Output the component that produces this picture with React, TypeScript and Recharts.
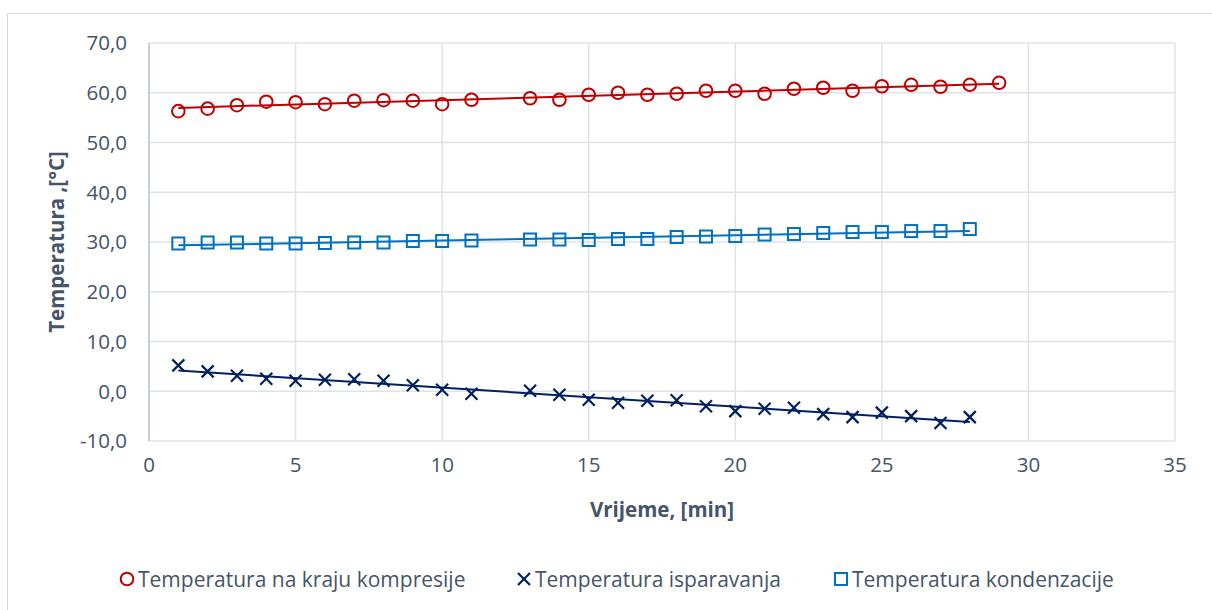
import React from 'react';
import {
  ScatterChart,
  Scatter,
  XAxis,
  YAxis,
  CartesianGrid,
  ReferenceLine,
  Label,
} from 'recharts';

// minutes for the compression series (no reading at 12 min)
const MIN_KOMPRESIJA = [1, 2, 3, 4, 5, 6, 7, 8, 9, 10, 11, 13, 14, 15, 16, 17, 18, 19, 20, 21, 22, 23, 24, 25, 26, 27, 28, 29];
const MIN_OSTALO = [1, 2, 3, 4, 5, 6, 7, 8, 9, 10, 11, 13, 14, 15, 16, 17, 18, 19, 20, 21, 22, 23, 24, 25, 26, 27, 28];

const KOMPRESIJA = [56.3, 56.8, 57.5, 58.2, 58.1, 57.7, 58.4, 58.5, 58.4, 57.7, 58.6, 58.9, 58.6, 59.6, 60.0, 59.6, 59.8, 60.4, 60.4, 59.8, 60.8, 61.0, 60.4, 61.3, 61.6, 61.2, 61.6, 62.0];
const ISPARAVANJE = [5.2, 4.0, 3.1, 2.5, 2.1, 2.3, 2.4, 2.1, 1.2, 0.3, -0.5, 0.1, -0.7, -1.7, -2.3, -1.9, -1.8, -3.0, -4.0, -3.5, -3.3, -4.6, -5.2, -4.3, -5.0, -6.4, -5.2];
const KONDENZACIJA = [29.7, 29.9, 29.9, 29.7, 29.7, 29.8, 29.9, 29.9, 30.2, 30.2, 30.3, 30.5, 30.5, 30.4, 30.6, 30.6, 31.0, 31.1, 31.2, 31.5, 31.6, 31.8, 32.0, 32.0, 32.2, 32.2, 32.6];

const X_TICKS = [0, 5, 10, 15, 20, 25, 30, 35];
const Y_TICKS = [-10, 0, 10, 20, 30, 40, 50, 60, 70];

const RED = '#C00000';
const NAVY = '#002060';
const BLUE = '#0070C0';
const TEXT = '#44546A';
const FONT = '"Open Sans", Lato, sans-serif';

const toPoints = (xs: number[], ys: number[]) => xs.map((x, i) => ({ x, y: ys[i] }));

// linear trendline (least squares), like Excel's
function trend(xs: number[], ys: number[]) {
  const n = xs.length;
  const mx = xs.reduce((a, b) => a + b, 0) / n;
  const my = ys.reduce((a, b) => a + b, 0) / n;
  let num = 0;
  let den = 0;
  xs.forEach((x, i) => {
    num += (x - mx) * (ys[i] - my);
    den += (x - mx) * (x - mx);
  });
  const k = num / den;
  const x0 = Math.min(...xs);
  const x1 = Math.max(...xs);
  return [
    { x: x0, y: my + k * (x0 - mx) },
    { x: x1, y: my + k * (x1 - mx) },
  ];
}

const CircleMark = (p: any) => (
  <circle cx={p.cx} cy={p.cy} r={6.3} fill="none" stroke={RED} strokeWidth={2} />
);
const SquareMark = (p: any) => (
  <rect x={p.cx - 6} y={p.cy - 6} width={12} height={12} fill="none" stroke={BLUE} strokeWidth={2} />
);
const CrossMark = (p: any) => (
  <g stroke={NAVY} strokeWidth={2.2}>
    <line x1={p.cx - 6} y1={p.cy - 6} x2={p.cx + 6} y2={p.cy + 6} />
    <line x1={p.cx - 6} y1={p.cy + 6} x2={p.cx + 6} y2={p.cy - 6} />
  </g>
);

const fmt = (v: number) => v.toFixed(1).replace('.', ',');

function LegendItem({ icon, label, left }: { icon: React.ReactNode; label: string; left: number }) {
  return (
    <div style={{ position: 'absolute', left, top: 565, display: 'flex', alignItems: 'center' }}>
      <svg width={18} height={26}>{icon}</svg>
      <span style={{ fontFamily: FONT, fontSize: 21, color: TEXT, marginLeft: 2 }}>{label}</span>
    </div>
  );
}

export default function App() {
  const red = toPoints(MIN_KOMPRESIJA, KOMPRESIJA);
  const navy = toPoints(MIN_OSTALO, ISPARAVANJE);
  const blue = toPoints(MIN_OSTALO, KONDENZACIJA);
  const tRed = trend(MIN_KOMPRESIJA, KOMPRESIJA);
  const tNavy = trend(MIN_OSTALO, ISPARAVANJE);
  const tBlue = trend(MIN_OSTALO, KONDENZACIJA);

  return (
    <div style={{ position: 'absolute', left: 0, top: 0, width: 1212, height: 610, background: '#fff', overflow: 'hidden' }}>
      <div style={{ position: 'absolute', left: 7, top: 13, width: 1300, height: 700, border: '1px solid #d9d9d9' }} />
      <ScatterChart
        width={1212}
        height={610}
        margin={{ top: 43, right: 37, left: 0, bottom: 89 }}
        style={{ position: 'absolute', left: 0, top: 0 }}
      >
        <CartesianGrid stroke="#dfe3e9" strokeWidth={1.5} />
        <XAxis
          type="number"
          dataKey="x"
          domain={[0, 35]}
          ticks={X_TICKS}
          height={80}
          axisLine={false}
          tickLine={false}
          tickSize={0}
          tickMargin={16}
          tick={{ fill: TEXT, fontSize: 20.5, fontFamily: FONT }}
        >
          <Label
            value="Vrijeme, [min]"
            position="insideBottom"
            offset={4}
            style={{ fill: TEXT, fontSize: 20.5, fontWeight: 700, fontFamily: FONT }}
          />
        </XAxis>
        <YAxis
          type="number"
          dataKey="y"
          domain={[-10, 70]}
          ticks={Y_TICKS}
          width={149}
          axisLine={{ stroke: '#bfc6d2', strokeWidth: 1.5 }}
          tickLine={false}
          tickSize={0}
          tickMargin={22}
          tickFormatter={fmt}
          tick={{ fill: TEXT, fontSize: 20.5, fontFamily: FONT }}
        >
          <Label
            value="Temperatura ,[°C]"
            angle={-90}
            position="insideLeft"
            offset={57}
            style={{ fill: TEXT, fontSize: 20.5, fontWeight: 700, fontFamily: FONT, textAnchor: 'middle' }}
          />
        </YAxis>
        <Scatter name="Temperatura na kraju kompresije" data={red} shape={CircleMark} isAnimationActive={false} />
        <Scatter name="Temperatura isparavanja" data={navy} shape={CrossMark} isAnimationActive={false} />
        <Scatter name="Temperatura kondenzacije" data={blue} shape={SquareMark} isAnimationActive={false} />
        <ReferenceLine segment={tRed} stroke={RED} strokeWidth={2} />
        <ReferenceLine segment={tNavy} stroke={NAVY} strokeWidth={2} />
        <ReferenceLine segment={tBlue} stroke={BLUE} strokeWidth={2} />
      </ScatterChart>
      <LegendItem
        left={118}
        label="Temperatura na kraju kompresije"
        icon={<circle cx={9} cy={13} r={6.3} fill="none" stroke={RED} strokeWidth={2} />}
      />
      <LegendItem
        left={515}
        label="Temperatura isparavanja"
        icon={
          <g stroke={NAVY} strokeWidth={2.2}>
            <line x1={3} y1={7} x2={15} y2={19} />
            <line x1={3} y1={19} x2={15} y2={7} />
          </g>
        }
      />
      <LegendItem
        left={832}
        label="Temperatura kondenzacije"
        icon={<rect x={3} y={7} width={12} height={12} fill="none" stroke={BLUE} strokeWidth={2} />}
      />
    </div>
  );
}
